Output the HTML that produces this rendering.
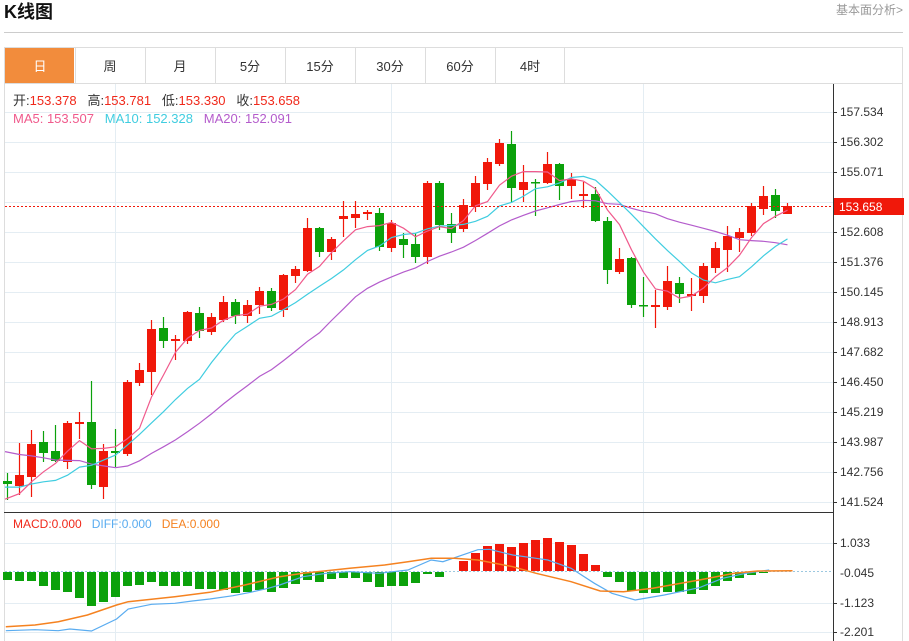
<!DOCTYPE html>
<html><head><meta charset="utf-8">
<style>
html,body{margin:0;padding:0;background:#fff;}
body{width:909px;height:641px;overflow:hidden;position:relative;font-family:"Liberation Sans","Noto Sans CJK SC",sans-serif;}
.t{position:absolute;white-space:nowrap;}
</style></head>
<body>
<div class="t" style="left:4px;top:0px;font-size:18px;font-weight:bold;color:#111;line-height:24px;">K线图</div>
<div class="t" style="right:6px;top:2px;font-size:12px;color:#999;line-height:16px;">基本面分析&gt;</div>
<svg id="s" width="909" height="641" style="position:absolute;left:0;top:0" xmlns="http://www.w3.org/2000/svg" font-family="Liberation Sans, Noto Sans CJK SC, sans-serif"></svg>
<script>
var s=document.getElementById('s'),h='';
function L(x1,y1,x2,y2,c,w,d){h+='<line x1="'+x1+'" y1="'+y1+'" x2="'+x2+'" y2="'+y2+'" stroke="'+c+'" stroke-width="'+(w||1)+'"'+(d?' stroke-dasharray="'+d+'"':'')+'/>';}
function R(x,y,w,hh,c){h+='<rect x="'+x+'" y="'+y+'" width="'+w+'" height="'+hh+'" fill="'+c+'"/>';}
function T(x,y,t,c,sz,a){h+='<text x="'+x+'" y="'+y+'" fill="'+c+'" font-size="'+(sz||12)+'"'+(a?' text-anchor="'+a+'"':'')+'>'+t+'</text>';}
function P(pts,c,w){h+='<polyline fill="none" stroke="'+c+'" stroke-width="'+(w||1.2)+'" points="'+pts.map(function(p){return p[0].toFixed(1)+','+p[1].toFixed(1)}).join(' ')+'"/>';}
L(4,32.5,903,32.5,'#ccc');
h+='<rect x="4.5" y="47.5" width="898" height="600" fill="none" stroke="#ddd"/>';
R(5,48,69,35,'#f28c3c');
L(4,83.5,903,83.5,'#ddd');
var tabs=['日','周','月','5分','15分','30分','60分','4时'];
for(var i=0;i<8;i++){var x=5+70*i;if(i>0)L(x+0.5,48,x+0.5,83,'#ddd');T(x+35,71,tabs[i],i==0?'#fff':'#333',13,'middle');}
L(564.5,48,564.5,83,'#ddd');
for(var k=0;k<14;k++){var y=112+30*k;L(5,y+0.5,833,y+0.5,'#e4edf3');L(833,y+0.5,837,y+0.5,'#333');}
var labs=['157.534','156.302','155.071','153.839','152.608','151.376','150.145','148.913','147.682','146.450','145.219','143.987','142.756','141.524'];
for(var k=0;k<14;k++){if(k==3)continue;T(840,116+30*k,labs[k],'#333',12);}
[115,391,643].forEach(function(x){L(x+0.5,84,x+0.5,641,'#e4edf3');});
[543,603,632].forEach(function(y){L(5,y+0.5,833,y+0.5,'#e4edf3');L(833,y+0.5,837,y+0.5,'#333');});
L(833.5,84,833.5,641,'#333');
L(4,512.5,833,512.5,'#333');
var D=[['G',481,484,473,500],['R',475,486,443,495],['R',444,477,430,497],['G',442,453,431,462],['G',451,461,425,462],
['R',423,462,421,469],['R',422,424,412,439],['G',422,485,381,489],['R',451,487,444,499],['G',451,453,429,467],
['R',382,454,380,456],['R',370,383,363,386],['R',329,372,320,395],['G',328,341,317,348],['R',339,341,335,360],
['R',312,341,311,344],['G',313,331,307,338],['R',317,332,313,335],['R',302,320,296,322],['G',302,316,299,324],
['R',305,316,300,323],['R',291,305,287,314],['G',291,308,288,311],['R',275,310,274,317],['R',269,276,266,283],
['R',228,271,218,272],['G',228,252,227,257],['R',239,252,237,260],['R',216,219,201,237],['R',214,218,201,228],
['R',212,214,210,220],['G',213,247,208,251],['R',223,248,220,252],['G',239,245,233,258],['G',244,257,233,263],
['R',183,257,181,264],['G',183,225,181,230],['G',224,233,213,243],['R',205,229,199,232],['R',183,207,176,212],
['R',162,184,158,190],['R',143,164,139,166],['G',144,188,131,202],['R',182,190,165,202],['G',182,183,179,216],
['R',164,183,152,184],['G',164,186,163,200],['R',179,186,173,199],['R',194,196,182,208],['G',194,221,187,222],
['G',221,270,217,284],['R',259,272,248,274],['G',258,305,257,308],['G',305,306,277,317],['R',305,307,290,328],
['R',281,307,266,310],['G',283,294,277,303],['R',294,296,278,311],['R',266,296,263,303],['R',248,268,242,273],
['R',236,250,226,272],['R',232,238,228,252],['R',206,233,203,236],['R',196,209,186,215],['G',195,211,189,218],['R',206,214,203,214]];
var closes=[416,416,416,416,416,416,416,416,416,416,475,475,475,475,475,503,503,503,503];
var X=function(i){return 7.5+12*i;};
D.forEach(function(d,i){var c=d[0]=='R'?'#f0180a':'#0ba10b';var x=X(i);
L(x,d[3],x,d[4],c,1.2);R(x-4.5,d[1],9,Math.max(1.5,d[2]-d[1]),c);closes.push(d[0]=='R'?d[1]:d[2]);});
function MA(n){var r=[];for(var i=0;i<D.length;i++){var j=i+19,sm=0;for(var k=0;k<n;k++)sm+=closes[j-k];r.push([i==0?5:X(i),sm/n]);}return r;}
P(MA(20),'#b45ccc');P(MA(10),'#40cde0');P(MA(5),'#f05a8c');
L(5,206.5,833,206.5,'#f0180a',1,'2,2');
R(834,198,70,17,'#f0180a');T(839,211,'153.658','#fff',12);
h+='<text x="13" y="105" font-size="13" xml:space="preserve"><tspan fill="#333">开:</tspan><tspan fill="#f0281a">153.378</tspan><tspan fill="#333">   高:</tspan><tspan fill="#f0281a">153.781</tspan><tspan fill="#333">   低:</tspan><tspan fill="#f0281a">153.330</tspan><tspan fill="#333">   收:</tspan><tspan fill="#f0281a">153.658</tspan></text>';
h+='<text x="13" y="123" font-size="13" xml:space="preserve"><tspan fill="#f05a8c">MA5: 153.507</tspan><tspan fill="#40cde0">   MA10: 152.328</tspan><tspan fill="#b45ccc">   MA20: 152.091</tspan></text>';
h+='<text x="13" y="528" font-size="12" xml:space="preserve"><tspan fill="#f0281a">MACD:0.000</tspan><tspan fill="#5aacf0">   DIFF:0.000</tspan><tspan fill="#f58220">   DEA:0.000</tspan></text>';
T(840,547,'1.033','#333',12);T(840,577,'-0.045','#333',12);T(840,607,'-1.123','#333',12);T(840,636,'-2.201','#333',12);
L(5,571.5,833,571.5,'#9cc8e0',1,'2,2');
var M=[-8,-9,-9,-14,-18,-20,-26,-34,-30,-25,-14,-13,-10,-14,-14,-14,-17,-17,-18,-21,-20,-18,-20,-16,-12,-8,-10,-7,-6,-6,-10,-15,-14,-14,-11,-2,-5,0,10,18,25,27,24,28,31,33,29,26,17,6,-5,-10,-19,-21,-21,-20,-20,-22,-18,-14,-9,-6,-3,-1,0,0];
M.forEach(function(v,i){var x=X(i)-4.5;if(v>0)R(x,571-v,9,v,'#f0180a');else if(v<0)R(x,572,9,-v,'#0ba10b');});
function Z(a){return a.map(function(p){return [p[0]/1.716,505+p[1]/3];});}
P(Z([[10,377],[60,374],[100,377],[120,372],[157,378],[200,342],[220,312],[260,298],[300,295],[330,288],[360,282],[400,272],[430,262],[460,250],[480,240],[520,215],[560,205],[600,200],[650,205],[700,195],[740,165],[760,170],[820,134],[840,133],[880,150],[920,160],[940,165],[980,190],[1020,235],[1050,265],[1090,285],[1140,270],[1200,248],[1240,220],[1280,205],[1320,195]]),'#5aacf0');
P(Z([[10,365],[60,360],[100,350],[150,330],[200,300],[220,290],[300,275],[360,262],[420,240],[480,215],[520,205],[600,190],[660,180],[700,170],[740,160],[780,160],[820,165],[880,185],[920,205],[980,230],[1030,258],[1070,260],[1120,250],[1200,225],[1260,205],[1300,198],[1360,197]]),'#f58220',1.5);
s.innerHTML=h;
</script>
</body></html>
